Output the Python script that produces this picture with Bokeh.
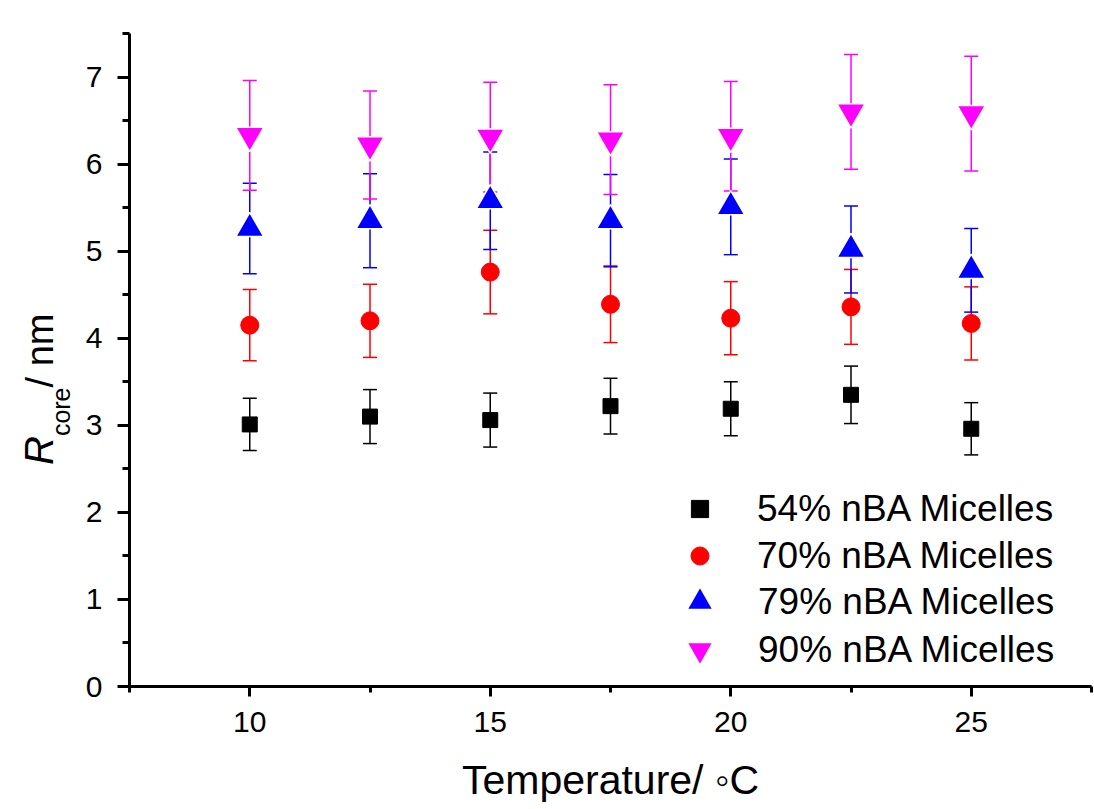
from bokeh.plotting import figure
from bokeh.layouts import row
from bokeh.models import (FixedTicker, Whisker, TeeHead, ColumnDataSource, Legend,
                          LegendItem, Range1d, Div)
from bokeh.embed import file_html
from bokeh.resources import INLINE

# ---------------- data ----------------
temperature = [10, 12.5, 15, 17.5, 20, 22.5, 25]

r54 = [3.01, 3.10, 3.06, 3.22, 3.19, 3.35, 2.96]
e54 = [0.30, 0.31, 0.31, 0.32, 0.31, 0.33, 0.30]

r70 = [4.15, 4.20, 4.76, 4.39, 4.23, 4.36, 4.17]
e70 = [0.41, 0.42, 0.48, 0.44, 0.42, 0.43, 0.42]

r79 = [5.26, 5.35, 5.58, 5.35, 5.51, 5.02, 4.78]
e79 = [0.52, 0.54, 0.56, 0.53, 0.55, 0.50, 0.48]

r90 = [6.33, 6.22, 6.31, 6.28, 6.32, 6.60, 6.58]
e90 = [0.63, 0.62, 0.63, 0.63, 0.63, 0.66, 0.66]

labels = ["54% nBA Micelles", "70% nBA Micelles", "79% nBA Micelles", "90% nBA Micelles"]
x_ticks = [10, 15, 20, 25]
x_minor = [7.5, 12.5, 17.5, 22.5, 27.5]
y_ticks = [0, 1, 2, 3, 4, 5, 6, 7]
y_minor = [0.5, 1.5, 2.5, 3.5, 4.5, 5.5, 6.5, 7.5]

FONT = "Liberation Sans"
DIV_W = 80

# ---------------- figure ----------------
p = figure(width=1094 - DIV_W, height=809, output_backend="svg", toolbar_location=None,
           x_range=Range1d(7.5, 27.5), y_range=Range1d(0, 7.5),
           min_border_left=129 - DIV_W, min_border_right=3, min_border_top=33,
           min_border_bottom=123)
p.outline_line_color = None
p.grid.visible = False
p.background_fill_color = "white"
p.border_fill_color = "white"

for ax in (p.xaxis[0], p.yaxis[0]):
    ax.axis_line_width = 3
    ax.axis_line_color = "black"
    ax.major_tick_line_width = 3
    ax.minor_tick_line_width = 3
    ax.major_tick_in = 0
    ax.minor_tick_in = 0
    ax.major_label_text_font = FONT
    ax.major_label_text_font_size = "30px"
    ax.major_label_text_color = "black"

p.xaxis.ticker = FixedTicker(ticks=x_ticks, minor_ticks=x_minor)
p.yaxis.ticker = FixedTicker(ticks=y_ticks, minor_ticks=y_minor)
p.xaxis.major_tick_out = 10
p.xaxis.minor_tick_out = 6
p.yaxis.major_tick_out = 12
p.yaxis.minor_tick_out = 7
p.xaxis.major_label_standoff = 15
p.yaxis.major_label_standoff = 15

p.xaxis.axis_label = "Temperature/ \u25e6C"
p.xaxis.axis_label_text_font = FONT
p.xaxis.axis_label_text_font_size = "41px"
p.xaxis.axis_label_text_font_style = "normal"
p.xaxis.axis_label_text_color = "black"
p.xaxis.axis_label_standoff = 22

# ---------------- series ----------------
# (values, errors, colour, marker, size, outline colour, outline width,
#  legend glyph box, legend placement (left, bottom), legend standoff)
series = [
    (r54, e54, "black", "square", 15, None, 0, 43, (549, 156), 36),
    (r70, e70, "red", "circle", 18, None, 0, 45, (548, 108), 35),
    (r79, e79, "blue", "triangle", 28, "white", 1.5, 65, (538, 52), 26),
    (r90, e90, "magenta", "inverted_triangle", 28, "white", 1.5, 65, (538, 4), 26),
]

for lab, (vals, errs, color, marker, size, lc, lw, gbox, loc, stand) in zip(labels, series):
    src = ColumnDataSource(dict(
        x=temperature, y=vals,
        upper=[v + e for v, e in zip(vals, errs)],
        lower=[v - e for v, e in zip(vals, errs)],
    ))
    w = Whisker(base="x", upper="upper", lower="lower", source=src, dimension="height",
                line_color=color, line_width=1.5,
                upper_head=TeeHead(size=14, line_color=color, line_width=1.5),
                lower_head=TeeHead(size=14, line_color=color, line_width=1.5))
    p.add_layout(w)
    r = p.scatter("x", "y", source=src, marker=marker, size=size, fill_color=color,
                  line_color=lc if lc else color, line_width=lw if lw else 1)
    leg = Legend(items=[LegendItem(label=lab, renderers=[r])], location=loc,
                 glyph_width=gbox, glyph_height=gbox, label_standoff=stand,
                 spacing=0, padding=0, margin=0, border_line_alpha=0,
                 background_fill_alpha=0, label_text_font=FONT,
                 label_text_font_size="37px", label_text_color="black")
    p.add_layout(leg)

# ---------------- y-axis title (R_core / nm) as rotated HTML text ----------------
ytitle = Div(width=DIV_W, height=809, margin=0, text=(
    '<div style="position:relative;width:%dpx;height:809px;background:white;">'
    '<div style="position:absolute;left:19px;top:465px;transform:rotate(-90deg);'
    'transform-origin:left top;white-space:nowrap;font-family:\'Liberation Sans\';'
    'font-size:40px;line-height:1;color:black;">'
    '<i>R</i><span style="font-size:25px;vertical-align:-17px;">core</span>'
    '<span style="font-size:38px;">/ nm</span></div></div>' % DIV_W))

layout = row(ytitle, p, spacing=0)

open("out.html", "w").write(file_html(layout, INLINE))
